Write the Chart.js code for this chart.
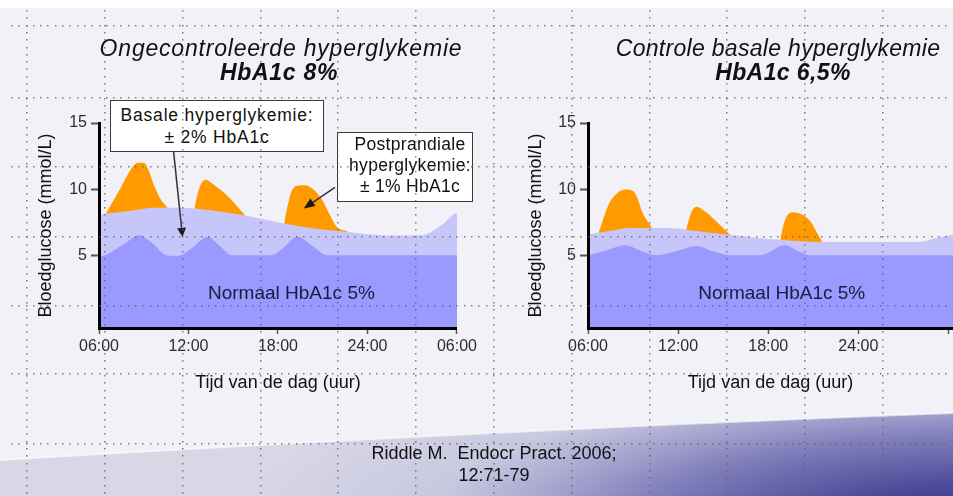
<!DOCTYPE html>
<html lang="nl">
<head>
<meta charset="utf-8">
<title>Bloedglucose gedurende de dag</title>
<script src="https://cdn.jsdelivr.net/npm/chart.js@4.4.1/dist/chart.umd.min.js"></script>
<style>
  html, body { margin:0; padding:0; }
  body { width:953px; height:496px; overflow:hidden; position:relative; background:#f1f1f7;
         font-family:"Liberation Sans", Arial, sans-serif; color:#111; }
  #bg { position:absolute; left:0; top:0; z-index:0; }
  .chartwrap { position:absolute; top:0; height:400px; z-index:1; }
  .txt { position:absolute; z-index:2; text-align:center; white-space:nowrap; color:#111; }
  .title { font-size:23px; font-style:italic; line-height:26px; }
  .sub { font-size:23px; font-style:italic; font-weight:bold; line-height:26px; }
  .boxtxt { font-size:17.5px; color:#111; }
  .box { position:absolute; z-index:2; background:#fff; border:1.5px solid #3a3a3a; box-sizing:border-box; }
  .cite { font-size:18px; line-height:21.7px; color:#111; }
  #grid { position:absolute; left:0; top:0; z-index:3; pointer-events:none; }
</style>
</head>
<body>
<canvas id="bg" width="953" height="496"></canvas>

<div class="chartwrap" style="left:0;width:480px;"><canvas id="left" width="480" height="400"></canvas></div>
<div class="chartwrap" style="left:490px;width:463px;"><canvas id="right" width="463" height="400"></canvas></div>

<div class="txt title" style="left:81px;width:400px;top:35px;letter-spacing:0.8px;">Ongecontroleerde hyperglykemie</div>
<div class="txt sub" style="left:79px;width:400px;top:59px;letter-spacing:0.7px;">HbA1c 8%</div>
<div class="txt title" style="left:578px;width:400px;top:35px;letter-spacing:0.3px;">Controle basale hyperglykemie</div>
<div class="txt sub" style="left:583px;width:400px;top:59px;letter-spacing:0.4px;">HbA1c 6,5%</div>

<div class="box" style="left:110px;top:100px;width:214px;height:52px;"></div>
<div class="txt boxtxt" style="left:117px;width:200px;top:104px;line-height:22px;letter-spacing:0.8px;">Basale hyperglykemie:<br>± 2% HbA1c</div>
<div class="box" style="left:337px;top:132px;width:136px;height:70px;"></div>
<div class="txt boxtxt" style="left:310px;width:200px;top:134px;line-height:21px;letter-spacing:0.3px;">Postprandiale<br>hyperglykemie:<br>± 1% HbA1c</div>

<div class="txt cite" style="left:294px;width:400px;top:443px;">Riddle M.&nbsp; Endocr Pract. 2006;<br>12:71-79</div>

<canvas id="grid" width="953" height="496"></canvas>

<script>
// ---------- data (hours of the day, blood glucose mmol/L) ----------
const xTickHours = [6, 12, 18, 24, 30];
const xTickLabelsLeft = ['06:00', '12:00', '18:00', '24:00', '06:00'];
const xTickLabelsRight = ['06:00', '12:00', '18:00', '24:00', ''];
const yTickValues = [5, 10, 15];

// Left: Ongecontroleerde hyperglykemie (HbA1c 8%)
const leftNormal = [[6.1,4.9],[6.6,5.1],[7.6,5.8],[8.7,6.5],[9.6,5.9],[10.5,5.0],[11.3,4.95],[12.3,5.6],[13.3,6.4],[14.1,5.7],[14.9,5.0],[17.6,5.0],[18.4,5.6],[19.3,6.4],[20.3,5.7],[21.3,5.0],[30.2,5.0]];
const leftBasal = [[6.1,8.1],[8.0,8.35],[9.8,8.6],[11.3,8.6],[13.5,8.4],[15.8,8.0],[18.4,7.4],[20.5,7.0],[22.4,6.8],[25.3,6.5],[27.6,6.5],[29.0,7.3],[30.0,8.2],[30.2,5.0]];
const leftPeak1 = [[6.44,8.1],[7.4,10.0],[8.2,11.6],[8.6,12.0],[9.0,12.0],[9.3,11.5],[9.65,10.4],[10.1,9.3],[10.6,8.6]];
const leftPeak2 = [[12.38,8.45],[12.6,9.6],[12.9,10.5],[13.2,10.7],[13.6,10.4],[14.6,9.5],[15.8,8.0]];
const leftPeak3 = [[18.4,7.3],[18.6,8.5],[18.9,9.8],[19.3,10.25],[19.8,10.3],[20.4,9.95],[21.0,9.1],[21.5,8.0],[21.9,7.2],[22.7,6.8]];

// Right: Controle basale hyperglykemie (HbA1c 6,5%)
const rightNormal = [[6.13,5.0],[7.3,5.4],[8.47,5.75],[9.5,5.35],[10.6,5.0],[11.9,5.3],[13.24,5.7],[14.3,5.3],[15.5,5.0],[17.5,5.0],[19.1,5.75],[20.0,5.3],[20.8,5.0],[30.3,5.0]];
const rightBasal = [[6.13,6.6],[7.5,6.85],[8.8,7.07],[10.5,7.07],[11.7,7.05],[13.5,6.8],[15.4,6.55],[17.0,6.35],[19.0,6.15],[21.4,6.0],[28.0,6.0],[29.2,6.3],[30.3,6.55]];
const rightPeak1 = [[6.69,6.65],[7.4,8.9],[8.0,9.75],[8.5,9.97],[9.0,9.85],[9.3,9.3],[9.6,8.3],[10.25,7.07]];
const rightPeak2 = [[12.53,6.9],[12.9,8.3],[13.25,8.66],[13.8,8.3],[14.6,7.5],[15.45,6.55]];
const rightPeak3 = [[18.8,6.15],[19.1,7.6],[19.6,8.25],[20.3,8.05],[20.85,7.5],[21.2,6.8],[21.6,6.0]];

// ---------- styles ----------
const FONT = '"Liberation Sans", Arial, sans-serif';
Chart.defaults.font.family = FONT;
const NORMAL = '#9999ff';
const BASAL = '#c6c6fa';
const ORANGE = '#ff9a00';
const TEXT = '#2c2c34';

const pts = arr => arr.map(([x, y]) => ({ x, y }));

const annotPlugin = {
  id: 'annot',
  afterDraw(chart, args, o) {
    const { ctx, scales: { x, y } } = chart;
    ctx.save();
    ctx.font = '19px ' + FONT;
    ctx.fillStyle = '#1c1c3c';
    ctx.textAlign = 'center';
    ctx.textBaseline = 'alphabetic';
    ctx.fillText(o.label, x.getPixelForValue(o.labelAt[0]), y.getPixelForValue(o.labelAt[1]));
    (o.arrows || []).forEach(a => {
      const x1 = x.getPixelForValue(a.from[0]), y1 = y.getPixelForValue(a.from[1]);
      const x2 = x.getPixelForValue(a.to[0]), y2 = y.getPixelForValue(a.to[1]);
      const ang = Math.atan2(y2 - y1, x2 - x1);
      const L = a.head || 10, W = 4.5;
      const bx = x2 - L * Math.cos(ang), by = y2 - L * Math.sin(ang);
      ctx.strokeStyle = '#333';
      ctx.lineWidth = 1.5;
      ctx.beginPath(); ctx.moveTo(x1, y1); ctx.lineTo(bx, by); ctx.stroke();
      ctx.fillStyle = '#1a1a1a';
      ctx.beginPath();
      ctx.moveTo(x2, y2);
      ctx.lineTo(bx + W * Math.sin(ang), by - W * Math.cos(ang));
      ctx.lineTo(bx - W * Math.sin(ang), by + W * Math.cos(ang));
      ctx.closePath(); ctx.fill();
    });
    ctx.restore();
  }
};

function area(data, color) {
  return { data: pts(data), backgroundColor: color, borderWidth: 0, pointRadius: 0,
           fill: 'start', cubicInterpolationMode: 'monotone' };
}

function makeChart(id, s, cfg) {
  return new Chart(document.getElementById(id), {
    type: 'line',
    data: { datasets: [
      area(s.normal, NORMAL),
      area(s.basal, BASAL),
      area(s.p1, ORANGE), area(s.p2, ORANGE), area(s.p3, ORANGE)
    ] },
    plugins: [annotPlugin],
    options: {
      responsive: false, animation: false, events: [],
      layout: { padding: { left: 25, top: 123, right: cfg.padRight, bottom: 0 } },
      plugins: {
        legend: { display: false }, tooltip: { enabled: false },
        annot: cfg.annot
      },
      scales: {
        x: {
          type: 'linear', min: 6, max: cfg.xMax,
          afterBuildTicks: sc => { sc.ticks = xTickHours.map(v => ({ value: v })); },
          afterFit: sc => { sc.height = 72; },
          ticks: { autoSkip: false, maxRotation: 0, padding: 3, color: TEXT, font: { size: 16 },
                   callback: v => cfg.xLabels[xTickHours.indexOf(v)] },
          grid: { drawOnChartArea: false, drawTicks: true, tickLength: 6, tickWidth: 1.5, tickColor: '#555', color: '#555' },
          border: { display: true, color: '#000', width: 3, z: 1 },
          title: { display: true, text: 'Tijd van de dag (uur)', color: '#111', font: { size: 18 }, padding: { top: 0, bottom: 6 } }
        },
        y: {
          min: -0.5, max: 15,
          afterBuildTicks: sc => { sc.ticks = yTickValues.map(v => ({ value: v })); },
          afterFit: sc => { sc.width = cfg.yWidth; },
          ticks: { padding: 4, color: TEXT, font: { size: 16 } },
          grid: { drawOnChartArea: false, drawTicks: true, tickLength: 8, tickWidth: 2, tickColor: '#555', color: '#555' },
          border: { display: true, color: '#000', width: 3, z: 1 },
          title: { display: true, text: 'Bloedglucose (mmol/L)', color: '#111', font: { size: 18 }, padding: { top: 10, bottom: 0 } }
        }
      }
    }
  });
}

makeChart('left',
  { normal: leftNormal, basal: leftBasal, p1: leftPeak1, p2: leftPeak2, p3: leftPeak3 },
  { xMax: 30, padRight: 20, yWidth: 74, xLabels: xTickLabelsLeft,
    annot: { label: 'Normaal HbA1c 5%', labelAt: [18.9, 1.7],
             arrows: [ { from: [11.0, 12.83], to: [11.6, 6.39], head: 9 },
                       { from: [21.82, 10.13], to: [19.73, 8.54], head: 11 } ] } });

makeChart('right',
  { normal: rightNormal, basal: rightBasal, p1: rightPeak1, p2: rightPeak2, p3: rightPeak3 },
  { xMax: 30.3, padRight: 0, yWidth: 73, xLabels: xTickLabelsRight,
    annot: { label: 'Normaal HbA1c 5%', labelAt: [18.9, 1.7], arrows: [] } });

// ---------- slide background (decoration) ----------
(function () {
  const W = 953, H = 496;
  const c = document.getElementById('bg').getContext('2d');
  c.fillStyle = '#f1f1f7'; c.fillRect(0, 0, W, H);
  c.fillStyle = '#ffffff'; c.fillRect(0, 0, W, 8);
  // purple swoosh at the bottom
  const off = document.createElement('canvas'); off.width = W; off.height = H;
  const o = off.getContext('2d');
  const img = o.createImageData(W, H);
  const stops = [[0, [60,57,144]], [0.21, [72,70,150]], [0.5, [126,124,185]], [0.64, [160,159,204]], [0.82, [200,200,224]], [1.1, [216,215,230]]];
  const col = t => {
    if (t <= stops[0][0]) return stops[0][1];
    for (let i = 1; i < stops.length; i++) {
      if (t <= stops[i][0]) {
        const [t0, a] = stops[i-1], [t1, b] = stops[i];
        const f = (t - t0) / (t1 - t0);
        return [a[0] + (b[0]-a[0])*f, a[1] + (b[1]-a[1])*f, a[2] + (b[2]-a[2])*f];
      }
    }
    return stops[stops.length-1][1];
  };
  for (let y = 400; y < H; y++) for (let x = 0; x < W; x++) {
    const t = Math.sqrt(Math.pow((983 - x) / 680, 2) + Math.pow((525 - y) / 175, 2));
    const p = col(t), i = (y * W + x) * 4;
    img.data[i] = p[0]; img.data[i+1] = p[1]; img.data[i+2] = p[2]; img.data[i+3] = 255;
  }
  o.putImageData(img, 0, 0);
  c.save();
  c.beginPath();
  c.moveTo(0, 460); c.bezierCurveTo(250, 445, 550, 428, 953, 413);
  c.lineTo(953, 496); c.lineTo(0, 496); c.closePath();
  c.clip();
  c.drawImage(off, 0, 0);
  c.restore();
  c.strokeStyle = 'rgba(255,255,255,0.6)'; c.lineWidth = 2;
  c.beginPath(); c.moveTo(0, 460); c.bezierCurveTo(250, 445, 550, 428, 953, 413); c.stroke();
})();

// ---------- slide dotted guide grid (decoration) ----------
(function () {
  const gx = [26, 104, 182, 260, 337, 415, 493, 571, 649, 726, 804, 882];
  const gy = [25, 97, 166, 236, 305, 373, 443];
  const g = document.getElementById('grid').getContext('2d');
  g.fillStyle = 'rgba(95,95,95,0.8)';
  gy.forEach(y => { for (let x = 11; x < 953; x += 7.3) g.fillRect(Math.round(x), y, 1.5, 1.5); });
  gx.forEach(x => { for (let y = 10; y < 496; y += 7.3) g.fillRect(x, Math.round(y), 1.5, 1.5); });
})();
</script>
</body>
</html>
